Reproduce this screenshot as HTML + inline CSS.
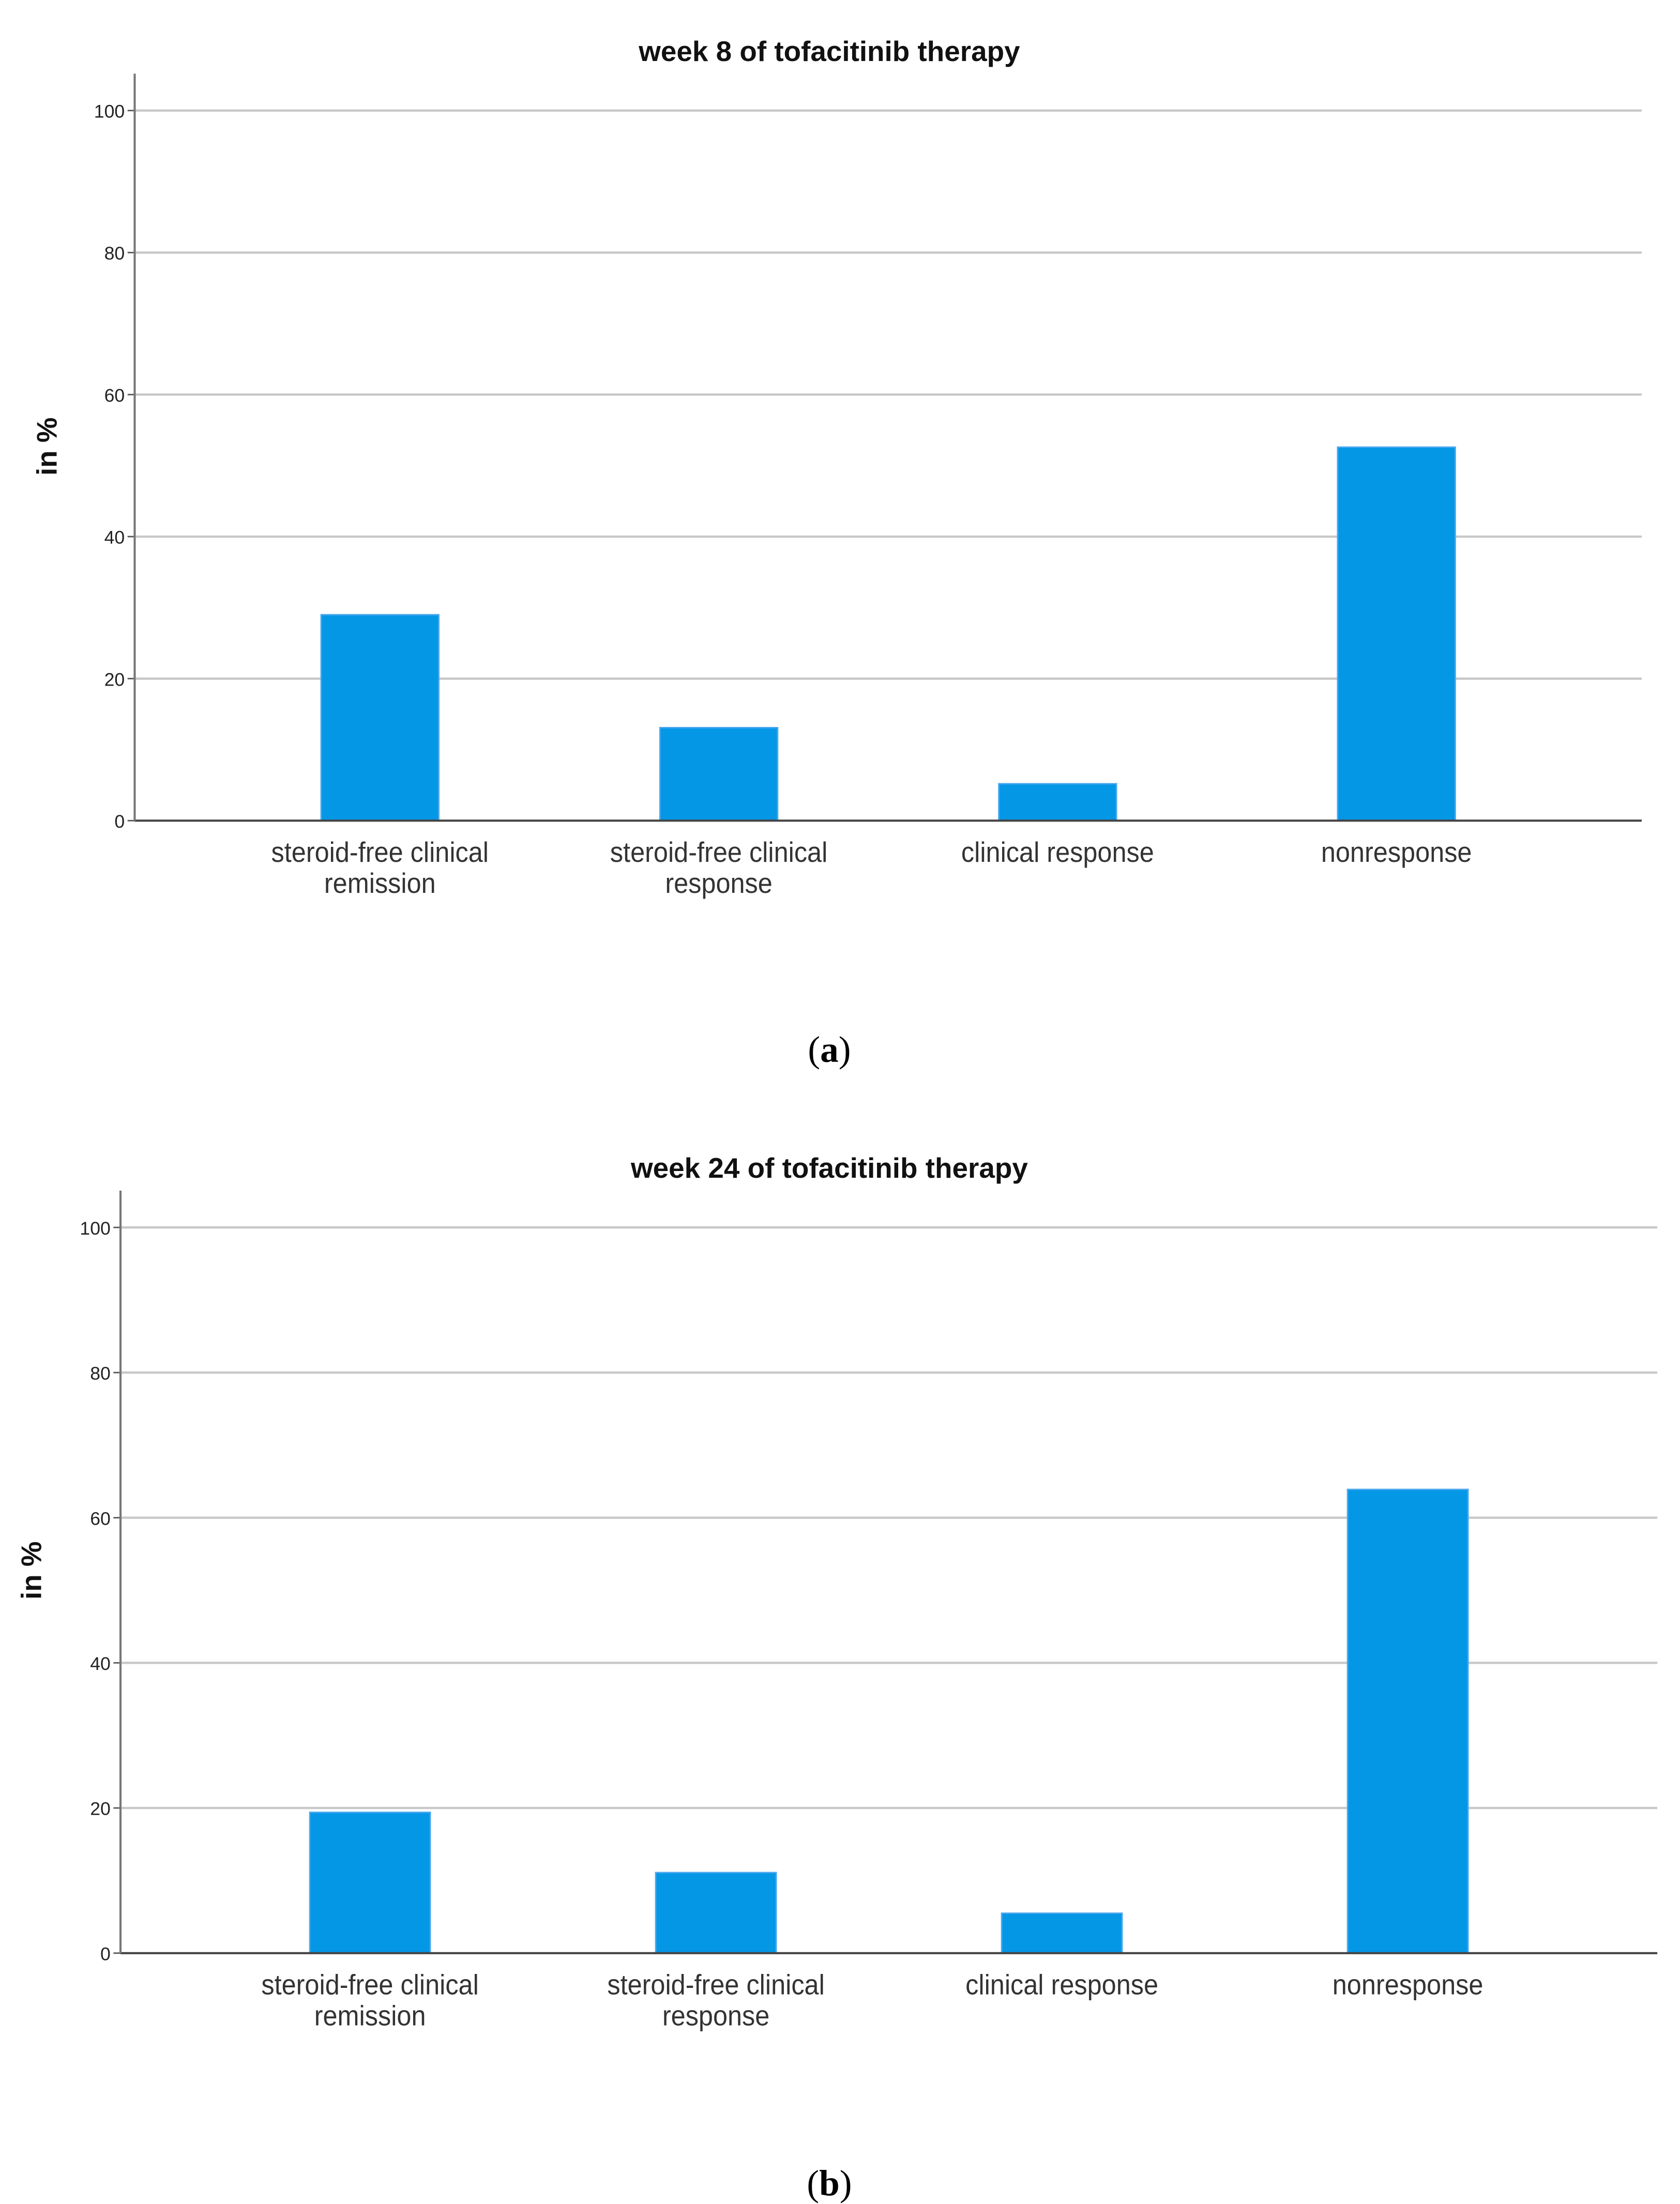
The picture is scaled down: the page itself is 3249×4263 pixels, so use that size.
<!DOCTYPE html>
<html><head><meta charset="utf-8"><style>
html,body{margin:0;padding:0;background:#fff;}
svg{display:block;}
</style></head><body>
<svg id="fig" width="3249" height="4263" viewBox="0 0 1185 1555" preserveAspectRatio="none" xmlns="http://www.w3.org/2000/svg" font-family="'Liberation Sans', sans-serif"></svg>
<script>
const categories = ["steroid-free clinical|remission","steroid-free clinical|response","clinical response","nonresponse"];
const week8Values = [29.0, 13.1, 5.2, 52.6];
const week24Values = [19.4, 11.1, 5.5, 63.9];
const yTicks = [0, 20, 40, 60, 80, 100];
const titles = ["week 8 of tofacitinib therapy", "week 24 of tofacitinib therapy"];
const panelLetters = ["a", "b"];

const NS = "http://www.w3.org/2000/svg";
const svg = document.getElementById('fig');
function mk(tag, attrs, parent){const e=document.createElementNS(NS,tag);for(const k in attrs)e.setAttribute(k,attrs[k]);(parent||svg).appendChild(e);return e;}

const panels = [
  {values: week8Values, axisX:95, axisTop:52, y100:78, y0:579, right:1158, centers:[268,507,746,985], bw:83, titleY:43, ylabX:40, ylabY:315, labY:608, panelY:749},
  {values: week24Values, axisX:85, axisTop:840, y100:866, y0:1378, right:1169, centers:[261,505,749,993], bw:85, titleY:831, ylabX:29, ylabY:1108, labY:1407, panelY:1549}
];

panels.forEach((p, pi) => {
  const g = mk('g', {});
  
  
  const yScale = v => p.y0 - (v/100)*(p.y0 - p.y100);
  const xStep = (p.centers[3]-p.centers[0])/3;
  const xScale = i => p.centers[0] + i*xStep;
  yTicks.forEach(t => {
    if (t > 0) {
      const gl = mk('line', {x1:p.axisX, x2:p.right, y1:yScale(t), y2:yScale(t), stroke:'#c8c8c8', 'stroke-width':1.6}, g);
      
      
    }
    const tk = mk('line', {x1:p.axisX-5, x2:p.axisX, y1:yScale(t), y2:yScale(t), stroke:'#555', 'stroke-width':1}, g);
    
    
    const tl = mk('text', {x:p.axisX-7, y:yScale(t)+5, 'text-anchor':'end', 'font-size':13, fill:'#222'}, g);
    tl.textContent = t;
    
    
  });
  p.values.forEach((v, i) => {
    const b = mk('rect', {x:xScale(i)-p.bw/2, y:yScale(v), width:p.bw, height:p.y0-yScale(v), fill:'#0497e6', stroke:'#4aa8ee', 'stroke-width':1}, g);
    
    
    const lines = categories[i].split('|');
    lines.forEach((ln, li) => {
      const t = mk('text', {x:xScale(i), y:p.labY + li*22, 'text-anchor':'middle', 'font-size':20, fill:'#333', transform:`translate(${xScale(i)},0) scale(0.92,1) translate(${-xScale(i)},0)`}, g);
      t.textContent = ln;
      
      
    });
  });
  const xa = mk('line', {x1:p.axisX, x2:p.right, y1:p.y0, y2:p.y0, stroke:'#444', 'stroke-width':1.5}, g);
  
  
  const ya = mk('line', {x1:p.axisX, x2:p.axisX, y1:p.axisTop, y2:p.y0, stroke:'#777', 'stroke-width':1.5}, g);
  
  
  const ti = mk('text', {x:585, y:p.titleY, 'text-anchor':'middle', 'font-size':20, 'font-weight':'bold', fill:'#111'}, g);
  ti.textContent = titles[pi];
  
  
  const yl = mk('text', {x:p.ylabX, y:p.ylabY, 'text-anchor':'middle', 'font-size':20, 'font-weight':'bold', fill:'#111', transform:`rotate(-90 ${p.ylabX} ${p.ylabY})`}, g);
  yl.textContent = 'in %';
  
  
  const pl = mk('text', {x:585, y:p.panelY, 'text-anchor':'middle', 'font-size':26, 'font-family':"'Liberation Serif', serif", fill:'#000'}, g);
  
  
  const s1 = mk('tspan', {}, pl); s1.textContent = '(';
  const s2 = mk('tspan', {'font-weight':'bold'}, pl); s2.textContent = panelLetters[pi];
  const s3 = mk('tspan', {}, pl); s3.textContent = ')';
});
</script>
</body></html>
